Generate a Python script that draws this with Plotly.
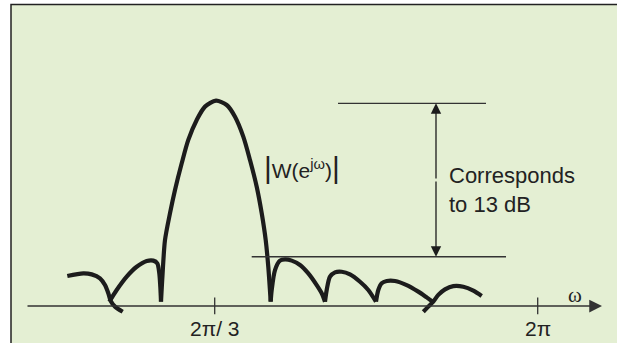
import plotly.graph_objects as go

# ---- data (omega in units of pi, linear magnitude |W|, peak = 1) ----
lobe_a_w = [0.0582, 0.1243, 0.1589, 0.1932, 0.2138, 0.2275, 0.2374, 0.2551, 0.2869]
lobe_a_m = [0.146, 0.159, 0.154, 0.135, 0.102, 0.062, 0.024, -0.003, -0.028]

lobe_b_w = [0.2316, 0.2621, 0.3034, 0.3447, 0.3860, 0.4132, 0.4297, 0.4380, 0.4421, 0.4450]
lobe_b_m = [0.021, 0.078, 0.143, 0.191, 0.219, 0.221, 0.208, 0.159, 0.094, 0.021]

main_w = [0.4450, 0.4512, 0.4615, 0.4822, 0.5028, 0.5305, 0.5577, 0.5924, 0.6266, 0.6720,
          0.7162, 0.7505, 0.7847, 0.8124, 0.8401, 0.8607, 0.8772, 0.8879, 0.8978]
main_m = [0.021, 0.151, 0.321, 0.452, 0.565, 0.695, 0.809, 0.906, 0.971, 1.000,
          0.979, 0.922, 0.825, 0.711, 0.581, 0.452, 0.321, 0.191, 0.021]

lobe_d_w = [0.8978, 0.9020, 0.9156, 0.9362, 0.9569, 0.9845, 1.0188, 1.0531, 1.0877, 1.1084, 1.1220]
lobe_d_m = [0.021, 0.078, 0.175, 0.221, 0.227, 0.221, 0.200, 0.159, 0.102, 0.062, 0.021]

lobe_e_w = [1.1220, 1.1290, 1.1426, 1.1633, 1.1909, 1.2252, 1.2665, 1.3007, 1.3325]
lobe_e_m = [0.021, 0.078, 0.143, 0.164, 0.167, 0.154, 0.118, 0.078, 0.021]

lobe_f_w = [1.3325, 1.3420, 1.3560, 1.3767, 1.4110, 1.4592, 1.5071, 1.5418, 1.5666]
lobe_f_m = [0.021, 0.078, 0.111, 0.122, 0.122, 0.102, 0.070, 0.042, 0.021]

lobe_g_w = [1.5278, 1.5484, 1.5690, 1.5897, 1.6174, 1.6516, 1.6929, 1.7342, 1.7688]
lobe_g_m = [-0.028, -0.003, 0.021, 0.054, 0.081, 0.097, 0.094, 0.075, 0.049]

tick_vals = [2 / 3, 2]
tick_text = ["2π/ 3", "2π"]

ref_top_level = 0.987
ref_top_span = [1.1757, 1.7866]
ref_bot_level = 0.240
ref_bot_span = [0.8194, 1.8692]
arrow_w = 1.5802

axis_start = -0.1123
axis_end = 2.2655

# ---- styles ----
INK = "#1c1c1c"
LINE = "#333333"
BG = "#e4efd3"
SANS = "Liberation Sans, Arial, Helvetica, sans-serif"

fig = go.Figure()

for w, m in [(lobe_a_w, lobe_a_m), (lobe_b_w, lobe_b_m), (main_w, main_m),
             (lobe_d_w, lobe_d_m), (lobe_e_w, lobe_e_m), (lobe_f_w, lobe_f_m),
             (lobe_g_w, lobe_g_m)]:
    fig.add_trace(go.Scatter(x=w, y=m, mode="lines",
                             line=dict(color=INK, width=4.2, shape="spline", smoothing=0.8),
                             hoverinfo="skip", showlegend=False))

shapes = [
    # frame (open to the right and bottom, as in the reference crop)
    dict(type="rect", xref="paper", yref="paper", x0=11 / 617, x1=1.3, y0=-0.3, y1=1 - 4.5 / 343,
         fillcolor=BG, line=dict(color="#222222", width=1.5), layer="below"),
    dict(type="line", xref="x", yref="y", x0=ref_top_span[0], x1=ref_top_span[1],
         y0=ref_top_level, y1=ref_top_level, line=dict(color=LINE, width=1.3)),
    dict(type="line", xref="x", yref="y", x0=ref_bot_span[0], x1=ref_bot_span[1],
         y0=ref_bot_level, y1=ref_bot_level, line=dict(color=LINE, width=1.3)),
]
for tv in tick_vals:
    shapes.append(dict(type="line", xref="x", yref="y", x0=tv, x1=tv, y0=-0.04, y1=0.042,
                       line=dict(color=LINE, width=1.3)))

annotations = []
# omega axis with arrow
annotations.append(dict(x=axis_end, y=0, ax=axis_start, ay=0, xref="x", yref="y", axref="x", ayref="y",
                        text="", showarrow=True, arrowhead=2, arrowsize=1.7, arrowwidth=1.5,
                        arrowcolor=LINE, standoff=0))
# double-headed vertical arrow
mid = (ref_top_level + ref_bot_level) / 2
for lvl in (ref_top_level, ref_bot_level):
    annotations.append(dict(x=arrow_w, y=lvl, ax=arrow_w, ay=mid, xref="x", yref="y", axref="x", ayref="y",
                            text="", showarrow=True, arrowhead=2, arrowsize=1.6, arrowwidth=1.3,
                            arrowcolor=INK, standoff=0))
# tick labels
for tv, tt in zip(tick_vals, tick_text):
    annotations.append(dict(x=tv, y=-0.112, xref="x", yref="y", text=tt, showarrow=False,
                            font=dict(family=SANS, size=21, color="#222222"),
                            xanchor="center", yanchor="middle"))
annotations.append(dict(x=2.154, y=0.054, xref="x", yref="y", text="ω", showarrow=False,
                        font=dict(family="Liberation Serif, Times New Roman, serif", size=21, color="#222222"),
                        xanchor="center", yanchor="middle"))
annotations.append(dict(x=1.6256, y=0.565, xref="x", yref="y", text="Corresponds<br>to 13 dB",
                        showarrow=False, align="left",
                        font=dict(family=SANS, size=22, color="#222222"),
                        xanchor="left", yanchor="middle"))
annotations.append(dict(x=1.027, y=0.677, xref="x", yref="y",
                        text="<span style='font-size:30px'>|</span>W(e<sup>jω</sup>)<span style='font-size:30px'>|</span>",
                        showarrow=False,
                        font=dict(family=SANS, size=21, color="#222222"),
                        xanchor="center", yanchor="middle"))

fig.update_layout(
    width=617, height=343, margin=dict(l=0, r=0, t=0, b=0),
    paper_bgcolor="white", plot_bgcolor="rgba(0,0,0,0)",
    xaxis=dict(range=[-0.21961, 2.32735], visible=False, fixedrange=True),
    yaxis=dict(range=[-0.18022, 1.49050], visible=False, fixedrange=True),
    shapes=shapes, annotations=annotations,
)

fig.write_html(
    "out.html",
    config={"displayModeBar": False},
    post_script="document.body.style.margin='0px';document.body.style.overflow='hidden';",
)
